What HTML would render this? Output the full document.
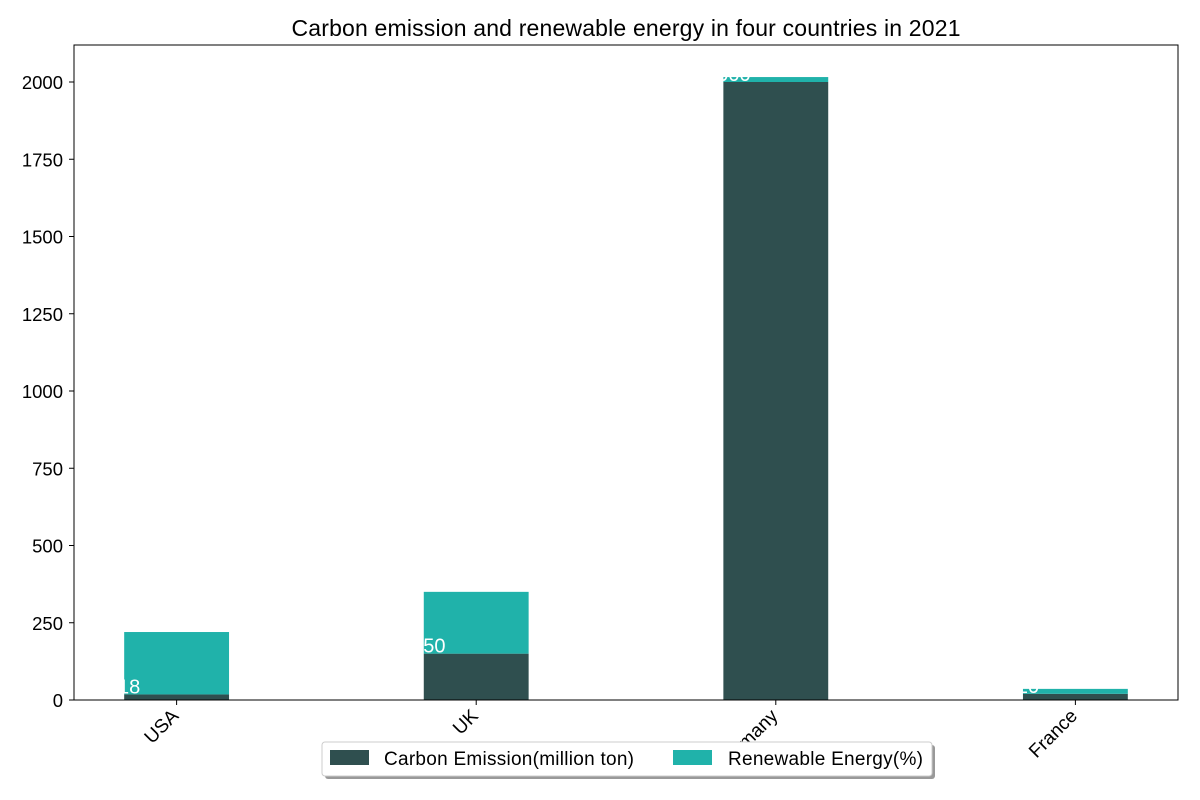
<!DOCTYPE html>
<html><head><meta charset="utf-8"><style>
body{margin:0;background:#fff;font-family:"Liberation Sans",Arial,sans-serif;}
svg{display:block}
</style></head><body>
<svg id="chart" width="1200" height="800">
<text x="626" y="36" font-size="23" text-anchor="middle" fill="#000" textLength="669">Carbon emission and renewable energy in four countries in 2021</text>
<g id="bars"></g>
<g id="yaxis"></g>
<g id="xaxis"></g>
<rect x="74" y="45" width="1104" height="655" fill="none" stroke="#000" stroke-width="1"/>
<g>
<rect x="325" y="745" width="610" height="34" rx="3" fill="#999"/>
<rect x="322" y="742" width="610" height="34" rx="3" fill="#fff" stroke="#ccc"/>
<rect x="330" y="750" width="39" height="15" fill="#2f4f4f"/>
<text x="384" y="765" font-size="19" textLength="250">Carbon Emission(million ton)</text>
<rect x="673" y="750" width="39" height="15" fill="#20b2aa"/>
<text x="728" y="765" font-size="19" textLength="195">Renewable Energy(%)</text>
</g>
</svg>
<script>
const categories=["USA","UK","Germany","France"];
const carbon=[18,150,2000,20];
const renewable=[202,200,16,16];
const yTicks=[0,250,500,750,1000,1250,1500,1750,2000];
const NS="http://www.w3.org/2000/svg";
const x0=74,x1=1178,y0=700,yTop=82;
const xs=i=>x0+(i+0.3425)/3.685*(x1-x0);
const ys=v=>y0-v*(y0-yTop)/2000;
const bw=0.35/3.685*(x1-x0);
function mk(t,a,p){const e=document.createElementNS(NS,t);for(const k in a)e.setAttribute(k,a[k]);p.appendChild(e);return e;}
const bars=document.getElementById('bars'),ya=document.getElementById('yaxis'),xa=document.getElementById('xaxis');
categories.forEach((c,i)=>{
 const cx=xs(i),l=cx-bw/2;
 const r1=mk('rect',{x:l,y:ys(carbon[i]),width:bw,height:ys(0)-ys(carbon[i]),fill:'#2f4f4f'},bars);
 
 
 const r2=mk('rect',{x:l,y:ys(carbon[i]+renewable[i]),width:bw,height:ys(carbon[i])-ys(carbon[i]+renewable[i]),fill:'#20b2aa'},bars);
 
 
 const t=mk('text',{x:l+5,y:ys(carbon[i])-1,'font-size':20,'text-anchor':'middle',fill:'#fff'},bars);
 t.textContent=carbon[i];
 
 
 const tk=mk('line',{x1:cx,x2:cx,y1:y0,y2:y0+5,stroke:'#000'},xa);
 
 
 const lb=mk('text',{x:cx+3,y:y0+17,'font-size':19,'text-anchor':'end',transform:`rotate(-45 ${cx+3} ${y0+17})`},xa);
 lb.textContent=c;
 
 
});
yTicks.forEach(v=>{
 const y=ys(v);
 const tk=mk('line',{x1:x0-5,x2:x0,y1:y,y2:y,stroke:'#000'},ya);
 
 
 const lb=mk('text',{x:x0-11,y:y+7,'font-size':18.5,'text-anchor':'end'},ya);
 lb.textContent=v;
 
 
});
</script>
</body></html>
